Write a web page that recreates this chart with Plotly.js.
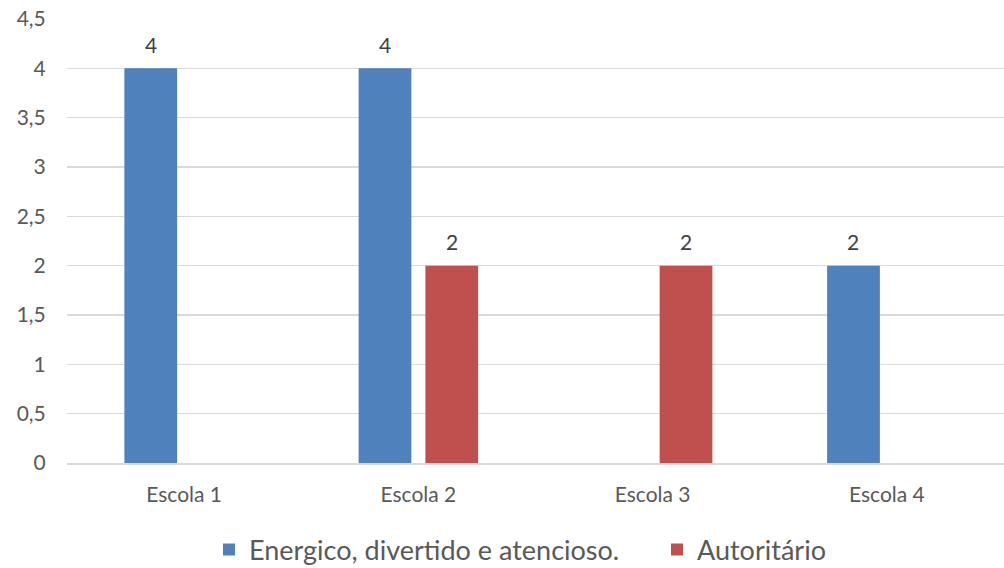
<!DOCTYPE html>
<html><head><meta charset="utf-8">
<script src="https://cdn.plot.ly/plotly-3.0.1.min.js"></script>
<style>html,body{margin:0;padding:0;background:#fff}#c{width:1004px;height:568px}</style>
</head><body><div id="c"></div>
<script>
var categories = ["Escola 1", "Escola 2", "Escola 3", "Escola 4"];
var seriesNames = ["Energico, divertido e atencioso.", "Autoritário"];
var energico = [4, 4, null, 2];
var autoritario = [null, 2, 2, null];
var yTicks = [0, 0.5, 1, 1.5, 2, 2.5, 3, 3.5, 4, 4.5];
var yTickLabels = ["0", "0,5", "1", "1,5", "2", "2,5", "3", "3,5", "4", "4,5"];

var font = "Lato, 'Open Sans', sans-serif";
var bargap = 0.43;
var series = [energico, autoritario];
var colors = ["#4F81BD", "#C0504D"];
var legendIds = ["legend", "legend2"];
var traces = series.map(function(vals, s){
  return {type:"bar", name:seriesNames[s], x:categories, y:vals, legend:legendIds[s],
          marker:{color:colors[s]}, hoverinfo:"none"};
});
var slot = (1 - bargap) / series.length;
var annotations = [];
series.forEach(function(vals, s){
  var off = -((1 - bargap) / 2) + slot * (s + 0.5);
  vals.forEach(function(v, i){
    if (v === null) return;
    annotations.push({xref:"x", yref:"y", x:i + off, y:v, text:String(v),
      showarrow:false, yanchor:"middle", yshift:24,
      font:{size:21, color:"#404040", family:font}});
  });
});
function legendAt(px){
  return {orientation:"h", xref:"container", yref:"container",
          x:px/1004, xanchor:"left", y:18/568, yanchor:"middle",
          font:{size:27,color:"#595959"}, itemclick:false, bgcolor:"rgba(0,0,0,0)"};
}
var layout = {
  width:1004, height:568,
  margin:{l:67, r:0, t:19, b:105},
  paper_bgcolor:"#fff", plot_bgcolor:"#fff",
  font:{family:font, color:"#595959"},
  barmode:"group", bargap:bargap, bargroupgap:0.21,
  showlegend:true,
  annotations:annotations,
  legend:legendAt(209),
  legend2:legendAt(657),
  xaxis:{type:"category", tickfont:{size:21,color:"#595959"}, showline:true, automargin:false,
         linecolor:"#D9D9D9", linewidth:1.5, ticks:"outside", ticklen:12,
         tickcolor:"rgba(0,0,0,0)", showgrid:false, fixedrange:true, range:[-0.5,3.5]},
  yaxis:{range:[0,4.5], tickvals:yTicks, ticktext:yTickLabels, showgrid:true, automargin:false,
         gridcolor:"#D9D9D9", gridwidth:1.5, zeroline:false, showline:false,
         tickfont:{size:21,color:"#595959"}, ticks:"outside", ticklen:16, tickcolor:"rgba(0,0,0,0)"}
};
Plotly.newPlot("c", traces, layout, {displayModeBar:false, staticPlot:true});
</script></body></html>
